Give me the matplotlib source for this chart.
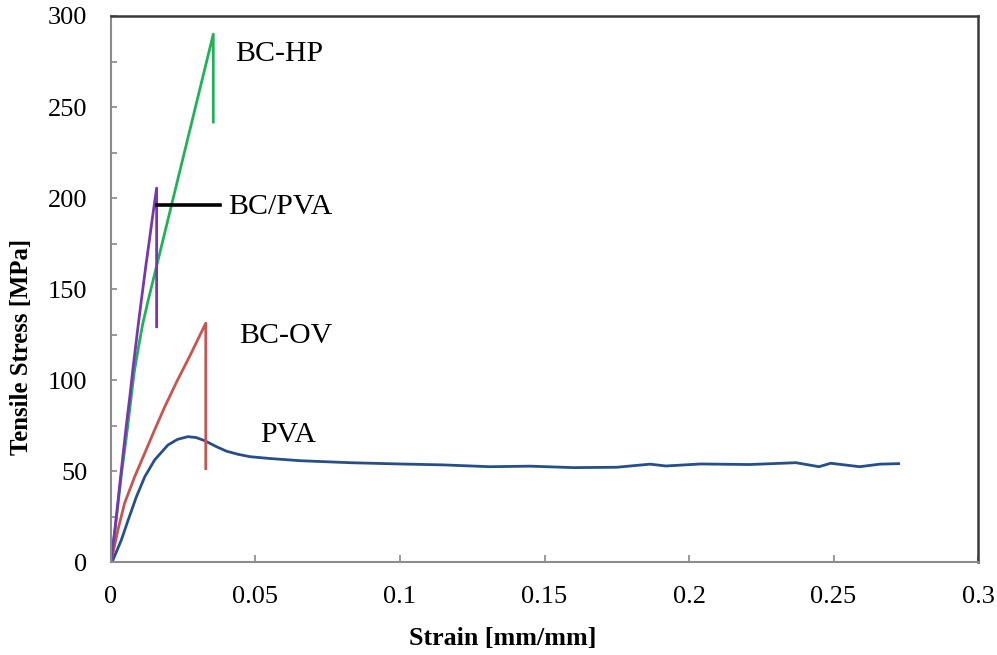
import matplotlib
matplotlib.use("Agg")
import matplotlib.pyplot as plt
from matplotlib.ticker import MultipleLocator

plt.rcParams['font.family'] = ['Liberation Serif', 'DejaVu Serif']

# Stress-strain data (strain in mm/mm, stress in MPa)
pva_strain = [0, 0.0007, 0.0036, 0.0059, 0.0088, 0.0117, 0.0151, 0.0197, 0.023, 0.0266,
              0.0295, 0.0324, 0.0365, 0.040, 0.044, 0.0481, 0.055, 0.0654, 0.0827, 0.1,
              0.115, 0.131, 0.145, 0.160, 0.175, 0.1865, 0.192, 0.204, 0.221, 0.237,
              0.245, 0.249, 0.259, 0.266, 0.273]
pva_stress = [0, 1.3, 12.3, 23, 36, 47, 56.2, 64.4, 67.5, 69,
              68.5, 66.8, 63.5, 61, 59.3, 58.0, 57.0, 55.8, 54.7, 54.0,
              53.5, 52.5, 52.8, 52.0, 52.2, 53.9, 52.9, 54.0, 53.7, 54.7,
              52.5, 54.4, 52.5, 53.9, 54.2]

bcov_strain = [0, 0.0024, 0.0047, 0.0082, 0.0117, 0.0151, 0.0185, 0.0227, 0.0275, 0.0328, 0.0328]
bcov_stress = [0, 17.7, 32.4, 47, 60, 72.7, 85, 99, 114, 131.3, 50.7]

bcpva_strain = [0, 0.0015, 0.0036, 0.0053, 0.0066, 0.0077, 0.0094, 0.0106, 0.012, 0.0133,
                0.0145, 0.0158, 0.0158]
bcpva_stress = [0, 20, 50.7, 75, 92, 107.5, 130, 145, 162, 177,
                191, 205.5, 128.6]

bchp_strain = [0, 0.0015, 0.0036, 0.0055, 0.008, 0.0095, 0.011, 0.0129, 0.018, 0.0354, 0.0354]
bchp_stress = [0, 19, 48, 71, 104, 118, 131, 144, 177, 290, 241]

# Leader line next to the BC/PVA label
leader_strain = [0.0158, 0.0377]
leader_stress = [196, 196]

labels = ["BC-HP", "BC/PVA", "BC-OV", "PVA"]
label_strain = [0.0429, 0.0405, 0.0443, 0.0516]
label_stress = [279, 195, 124.5, 70]

x_ticks = [0, 0.05, 0.1, 0.15, 0.2, 0.25, 0.3]
x_tick_labels = ["0", "0.05", "0.1", "0.15", "0.2", "0.25", "0.3"]
y_ticks = [0, 50, 100, 150, 200, 250, 300]

fig = plt.figure(figsize=(9.97, 6.55), dpi=100)
ax = fig.add_axes([0.1113, 0.1415, 0.8697, 0.8341])

lw = 2.0
kw = dict(lw=lw, solid_joinstyle='round', solid_capstyle='butt')
ax.plot(pva_strain, pva_stress, color='#264f8a', **kw)
ax.plot(bcov_strain, bcov_stress, color='#c9534f', **kw)
ax.plot(bchp_strain, bchp_stress, color='#1db356', **kw)
ax.plot(bcpva_strain, bcpva_stress, color='#7a35b0', **kw)
ax.plot(leader_strain, leader_stress, color='black', lw=2.6)

for t, xs, ys in zip(labels, label_strain, label_stress):
    ax.text(xs, ys, t, fontsize=21.5, ha='left', va='center', color='black')

ax.set_xlim(0, 0.3)
ax.set_ylim(0, 300)
ax.set_xticks(x_ticks)
ax.set_xticklabels(x_tick_labels)
ax.set_yticks(y_ticks)
ax.yaxis.set_minor_locator(MultipleLocator(25))

ax.tick_params(axis='x', which='major', direction='in', length=5, width=1.2,
               color='#888888', labelsize=19, pad=17)
ax.tick_params(axis='y', which='both', direction='in', length=4, width=1.2,
               color='#888888', labelsize=19, pad=17)

for side in ['left', 'bottom']:
    ax.spines[side].set_color('#8c8c8c')
    ax.spines[side].set_linewidth(1.5)
for side in ['top', 'right']:
    ax.spines[side].set_color('#3a3a3a')
    ax.spines[side].set_linewidth(1.8)

fig.text(0.504, 1 - 638 / 655, "Strain [mm/mm]", fontsize=18.7, fontweight='bold',
         ha='center', va='center')
fig.text(22 / 997, 1 - 347 / 655, "Tensile Stress [MPa]", fontsize=17.8, fontweight='bold',
         ha='center', va='center', rotation=90)

fig.savefig("out.png", dpi=100)
